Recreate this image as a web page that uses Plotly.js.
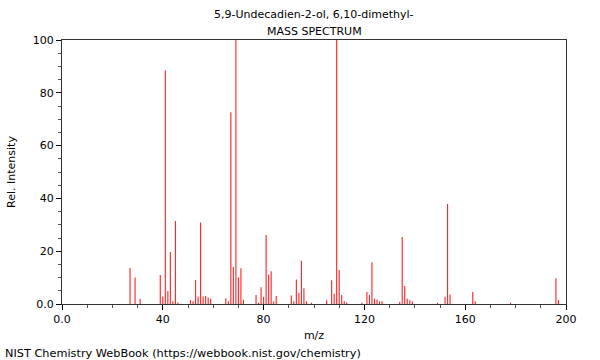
<!DOCTYPE html>
<html><head><meta charset="utf-8">
<script src="https://cdn.plot.ly/plotly-3.0.1.min.js"></script>
<style>body{margin:0;background:#fff}#c{width:600px;height:360px}</style>
</head><body><div id="c"></div>
<script>
const mz = [27,29,31,39,40,41,42,43,44,45,46,51,52,53,54,55,56,57,58,59,65,66,67,68,69,70,71,72,77,78,79,80,81,82,83,84,85,91,92,93,94,95,96,97,99,105,107,108,109,110,111,112,113,119,121,122,123,124,125,126,127,134,135,136,137,138,139,149,152,153,154,163,164,178,196,197];
const intensity = [13.6,10,1.9,11,2.8,88.4,4.9,19.7,1,31.4,0.6,1.5,1,9.1,2.8,30.9,2.8,3,2.5,2,2.2,1,72.6,14,100,10,13.5,1.6,3.4,0.5,6.3,2.7,26.1,11.1,12.4,1,3,3.2,1,9.3,4.2,16.4,6,1,0.5,1.4,9,3.9,100,12.9,3.4,1,0.6,0.5,4.5,3.4,15.8,2,1.7,1,1,0.8,25.4,6.8,2,1.4,1,0.5,2.7,37.9,3.6,4.5,1,0.5,9.8,1.5];
const xTickVals = [0,40,80,120,160,200];
const xTickText = ["0.0","40","80","120","160","200"];
const yTickVals = [0,20,40,60,80,100];
const yTickText = ["0.0","20","40","60","80","100"];
const titleLines = ["5,9-Undecadien-2-ol, 6,10-dimethyl-","MASS SPECTRUM"];
const credit = "NIST Chemistry WebBook (https://webbook.nist.gov/chemistry)";

const font = {family: "DejaVu Sans", size: 11, color: "#000"};
Plotly.newPlot("c", [{
  type: "bar", x: mz, y: intensity, width: 0.45,
  marker: {color: "rgb(255,40,40)", line: {width: 0}},
  hoverinfo: "x+y"
}], {
  width: 600, height: 360,
  margin: {l: 62, r: 34, t: 40, b: 56},
  paper_bgcolor: "#fff", plot_bgcolor: "#fff",
  font: font, showlegend: false,
  xaxis: {range: [0, 200], tickvals: xTickVals, ticktext: xTickText,
    ticks: "outside", ticklen: 5, tickcolor: "#000", showgrid: false, zeroline: false,
    showline: true, linecolor: "#333", linewidth: 1, mirror: true,
    minor: {dtick: 10, tick0: 0, ticks: "outside", ticklen: 3, tickcolor: "#555", showgrid: false},
    tickfont: {family: "DejaVu Sans", size: 11}, fixedrange: true,
    title: {text: "m/z", font: {family: "DejaVu Sans", size: 11}, standoff: 6}},
  yaxis: {range: [0, 100], tickvals: yTickVals, ticktext: yTickText,
    ticks: "outside", ticklen: 5, tickcolor: "#000", showgrid: false, zeroline: false,
    showline: true, linecolor: "#333", linewidth: 1, mirror: true,
    minor: {dtick: 5, tick0: 0, ticks: "outside", ticklen: 3, tickcolor: "#555", showgrid: false},
    tickfont: {family: "DejaVu Sans", size: 11}, fixedrange: true,
    title: {text: "Rel. Intensity", font: {family: "DejaVu Sans", size: 11}, standoff: 14}},
  annotations: [
    {text: titleLines[0], xref: "paper", yref: "paper", x: 0.5, y: 1, yshift: 26, showarrow: false, font: font, xanchor: "center", yanchor: "middle"},
    {text: titleLines[1], xref: "paper", yref: "paper", x: 0.5, y: 1, yshift: 9, showarrow: false, font: font, xanchor: "center", yanchor: "middle"},
    {text: credit, xref: "paper", yref: "paper", x: -62/504, xshift: 3, y: 0, yshift: -49, showarrow: false, font: {family: "DejaVu Sans", size: 11.3, color: "#000"}, xanchor: "left", yanchor: "middle"}
  ]
}, {displayModeBar: false, staticPlot: true});
</script></body></html>
